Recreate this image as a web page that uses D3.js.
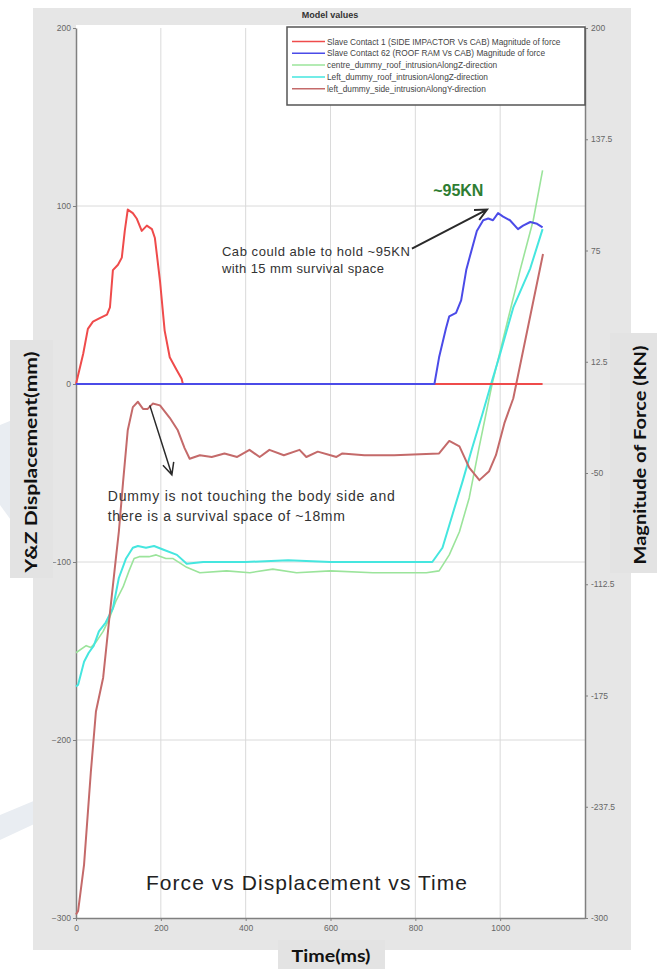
<!DOCTYPE html>
<html>
<head>
<meta charset="utf-8">
<script src="https://cdn.jsdelivr.net/npm/d3@7/dist/d3.min.js"></script>
<style>
  body { margin: 0; background: #fff; }
  svg { display: block; }
</style>
</head>
<body>
<div id="chart"></div>
<script>
// ---- data ----
const impactT = [0, 17, 28, 40, 56, 73, 80, 87, 99, 108, 115, 122, 134, 143, 155, 167, 179, 186, 198, 209, 221, 237, 249, 252, 1100];
const impactF = [0, 17, 31, 35, 37, 39, 43, 64, 67, 71, 86, 98, 96, 93, 86, 89, 87, 82, 58, 30, 15, 8, 3, 0, 0];

const roofT = [0, 845, 856, 872, 880, 896, 908, 920, 929, 945, 960, 972, 983, 995, 1007, 1023, 1042, 1054, 1071, 1087, 1100];
const roofF = [0, 0, 15, 31, 38, 40, 47, 64, 72, 86, 92, 93, 92, 96, 94, 92, 87, 89, 91, 90, 88];

const centreT = [0, 24, 35, 47, 64, 78, 94, 111, 125, 137, 149, 172, 189, 212, 228, 261, 292, 355, 410, 464, 520, 600, 700, 826, 856, 880, 904, 927, 950, 981, 1047, 1078, 1100];
const centreZ = [-151, -147, -148, -145, -139, -132, -122, -114, -105, -98, -97, -97, -96, -98, -98, -103, -106, -105, -106, -104, -106, -105, -106, -106, -105, -96, -83, -64, -36, 0, 64, 92, 120];

const leftT = [0, 5, 19, 30, 42, 54, 70, 87, 101, 118, 134, 146, 165, 184, 205, 238, 261, 300, 400, 500, 600, 700, 840, 864, 888, 911, 934, 958, 981, 1000, 1031, 1071, 1100];
const leftZ = [-170, -169, -156, -151, -147, -139, -134, -126, -109, -98, -92, -91, -92, -91, -93, -96, -101, -100, -100, -99, -100, -100, -100, -92, -73, -55, -36, -17, 2, 17, 43, 65, 87];

const sideT = [0, 5, 19, 35, 47, 64, 78, 94, 101, 111, 122, 134, 146, 158, 169, 181, 198, 221, 240, 256, 268, 292, 320, 350, 380, 409, 433, 456, 490, 527, 543, 570, 600, 614, 628, 680, 750, 856, 880, 904, 927, 951, 974, 990, 1010, 1031, 1101];
const sideY = [-298, -296, -270, -218, -184, -165, -133, -98, -83, -55, -26, -13, -10, -14, -14, -11, -12, -19, -26, -36, -42, -40, -41, -39, -41, -37, -41, -37, -40, -37, -41, -38, -40, -41, -39, -40, -40, -39, -32, -35, -47, -54, -49, -40, -22, -8, 73];

const seriesNames = [
  "Slave Contact 1 (SIDE IMPACTOR Vs CAB) Magnitude of force",
  "Slave Contact 62 (ROOF RAM Vs CAB) Magnitude of force",
  "centre_dummy_roof_intrusionAlongZ-direction",
  "Left_dummy_roof_intrusionAlongZ-direction",
  "left_dummy_side_intrusionAlongY-direction"
];
const seriesColors = ["#ef4b4b", "#4b4be8", "#9be49b", "#45e6df", "#c46a6a"];

const xTicks = [0, 200, 400, 600, 800, 1000];
const yTicks = [-300, -200, -100, 0, 100, 200];
const yRightTicks = [-300, -237.5, -175, -112.5, -50, 12.5, 75, 137.5, 200];
const gridX = [200, 400, 600, 800, 1000];
const gridY = [-200, -100, 0, 100];

// ---- chart ----
const W = 657, H = 969;
const svg = d3.select("#chart").append("svg").attr("width", W).attr("height", H);

const x = d3.scaleLinear().domain([0, 1200]).range([76, 585]);
const y = d3.scaleLinear().domain([-300, 200]).range([918, 28]);

// faint watermark shapes behind the panel
svg.append("path")
  .attr("d", "M0,425 L32,412 L70,520 L40,560 L0,505 Z M0,815 L60,790 L60,812 L0,840 Z")
  .attr("fill", "#e9edf2");

// grey panel
svg.append("rect").attr("x", 33).attr("y", 8).attr("width", 598).attr("height", 942).attr("fill", "#e6e6e6");
svg.append("rect").attr("x", 76).attr("y", 25).attr("width", 509).attr("height", 893).attr("fill", "#fff");

svg.append("text")
  .attr("x", 330).attr("y", 18)
  .attr("text-anchor", "middle")
  .attr("font-family", "Liberation Sans, Arial, sans-serif")
  .attr("font-size", 9).attr("font-weight", "bold").attr("fill", "#333")
  .text("Model values");

// grid
const grid = svg.append("g").attr("stroke", "#dadada").attr("stroke-width", 1);
grid.selectAll(".gx").data(gridX).enter().append("line")
  .attr("x1", d => x(d)).attr("x2", d => x(d)).attr("y1", y(200)).attr("y2", y(-300));
grid.selectAll(".gy").data(gridY).enter().append("line")
  .attr("x1", x(0)).attr("x2", x(1200)).attr("y1", d => y(d)).attr("y2", d => y(d));

// axes
function styleAxis(g) {
  g.select(".domain").attr("stroke", "#808080").attr("stroke-width", 1.5);
  g.selectAll(".tick line").attr("stroke", "#808080");
  g.selectAll(".tick text").attr("fill", "#666").attr("font-size", 8.5)
    .attr("font-family", "Liberation Sans Narrow, Liberation Sans, Arial, sans-serif");
}
svg.append("g").attr("transform", `translate(${x(0)},0)`)
  .call(d3.axisLeft(y).tickValues(yTicks).tickSize(3).tickSizeOuter(0).tickPadding(2))
  .call(styleAxis);
svg.append("g").attr("transform", `translate(${x(1200)},0)`)
  .call(d3.axisRight(y).tickValues(yRightTicks).tickSize(3).tickSizeOuter(0).tickPadding(3).tickFormat(d => d))
  .call(styleAxis);
svg.append("g").attr("transform", `translate(0,${y(-300)})`)
  .call(d3.axisBottom(x).tickValues(xTicks).tickSize(3).tickSizeOuter(0).tickPadding(4).tickFormat(d3.format("d")))
  .call(styleAxis);

// lines
const line = d3.line().x(d => x(d[0])).y(d => y(d[1]));
const zip = (a, b) => a.map((v, i) => [v, b[i]]);
const series = [
  { pts: zip(centreT, centreZ), color: seriesColors[2], w: 1.6 },
  { pts: zip(leftT, leftZ), color: seriesColors[3], w: 2 },
  { pts: zip(sideT, sideY), color: seriesColors[4], w: 2 },
  { pts: zip(impactT, impactF), color: seriesColors[0], w: 2 },
  { pts: zip(roofT, roofF), color: seriesColors[1], w: 2 }
];
svg.append("g").selectAll("path").data(series).enter().append("path")
  .attr("d", d => line(d.pts))
  .attr("fill", "none")
  .attr("stroke", d => d.color)
  .attr("stroke-width", d => d.w)
  .attr("stroke-linejoin", "round");

// legend
const leg = svg.append("g");
leg.append("rect").attr("x", 287).attr("y", 27).attr("width", 298).attr("height", 78)
  .attr("fill", "#fff").attr("stroke", "#555").attr("stroke-width", 1.5);
const rows = leg.selectAll(".row").data(seriesNames).enter().append("g")
  .attr("transform", (d, i) => `translate(292,${41.5 + i * 11.8})`);
rows.append("line").attr("x1", 0).attr("x2", 33).attr("stroke", (d, i) => seriesColors[i]).attr("stroke-width", 1.5);
rows.append("text").attr("x", 35).attr("y", 3)
  .attr("font-family", "Liberation Sans, Arial, sans-serif").attr("font-size", 8.3).attr("fill", "#444")
  .text(d => d);

// annotations
const annoFont = "Liberation Sans, Arial, sans-serif";
function arrow(t1, v1, t2, v2, w) {
  const x1 = x(t1), y1 = y(v1), x2 = x(t2), y2 = y(v2);
  const a = Math.atan2(y2 - y1, x2 - x1), L = 13, s = 0.45;
  svg.append("path")
    .attr("d", `M${x1},${y1}L${x2},${y2}M${x2 - L * Math.cos(a - s)},${y2 - L * Math.sin(a - s)}L${x2},${y2}L${x2 - L * Math.cos(a + s)},${y2 - L * Math.sin(a + s)}`)
    .attr("fill", "none").attr("stroke", "#2a2a2a").attr("stroke-width", w);
}
arrow(792, 76, 969, 98, 2);
arrow(174, -12, 226, -51, 1.5);

svg.append("text").attr("x", x(842)).attr("y", y(105.7))
  .attr("font-family", annoFont).attr("font-size", 16).attr("font-weight", "bold").attr("fill", "#2e7d32")
  .text("~95KN");

const cab = svg.append("text").attr("font-family", annoFont).attr("font-size", 13).attr("fill", "#333");
cab.append("tspan").attr("x", x(344)).attr("y", y(72)).attr("textLength", 188).text("Cab could able to hold ~95KN");
cab.append("tspan").attr("x", x(344)).attr("y", y(62.4)).attr("textLength", 162).text("with 15 mm survival space");

const dum = svg.append("text").attr("font-family", annoFont).attr("font-size", 14).attr("fill", "#333");
dum.append("tspan").attr("x", x(75)).attr("y", y(-65.8)).attr("textLength", 287).text("Dummy  is not touching the body side and");
dum.append("tspan").attr("x", x(75)).attr("y", y(-77)).attr("textLength", 237).text("there is a survival space of ~18mm");

svg.append("text").attr("x", x(165)).attr("y", y(-284))
  .attr("font-family", annoFont).attr("font-size", 21).attr("fill", "#222").attr("textLength", 321)
  .text("Force vs Displacement  vs Time");

// axis titles in grey boxes
const titleFont = "Lato, 'Open Sans', sans-serif";
function boxTitle(rx, ry, rw, rh, tx, ty, rot, len, label) {
  svg.append("rect").attr("x", rx).attr("y", ry).attr("width", rw).attr("height", rh).attr("fill", "#e3e3e3");
  svg.append("text").attr("transform", `translate(${tx},${ty}) rotate(${rot})`).attr("text-anchor", "middle")
    .attr("font-family", titleFont).attr("font-weight", "bold").attr("font-size", 17).attr("fill", "#111")
    .attr("textLength", len).attr("lengthAdjust", "spacingAndGlyphs").text(label);
}
boxTitle(278, 940, 107, 29, 331, 962, 0, 79, "Time(ms)");
boxTitle(10, 340, 43, 238, 37, 462, -90, 221, "Y&Z Displacement(mm)");
boxTitle(610, 333, 47, 240, 646, 455, -90, 219, "Magnitude of Force (KN)");
</script>
</body>
</html>
